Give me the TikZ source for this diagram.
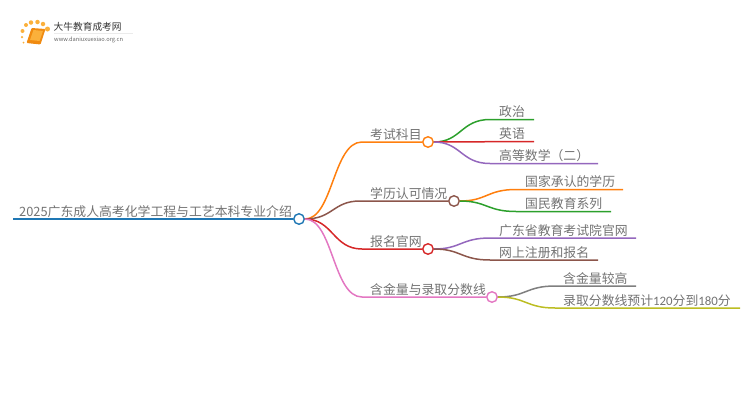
\documentclass[tikz,border=0pt]{standalone}
\usepackage{fontspec}
\usepackage{xcolor}
\setmainfont{Noto Sans CJK SC}
\newfontfamily\digitfont{Carlito}
\usetikzlibrary{positioning}
\definecolor{lineblue}{HTML}{1F77B4}
\definecolor{lineorange}{HTML}{FF7F0E}
\definecolor{linegreen}{HTML}{2CA02C}
\definecolor{linered}{HTML}{D62728}
\definecolor{linepurple}{HTML}{9467BD}
\definecolor{linebrown}{HTML}{8C564B}
\definecolor{linepink}{HTML}{E377C2}
\definecolor{linegray}{HTML}{7F7F7F}
\definecolor{lineolive}{HTML}{BCBD22}
\definecolor{booklight}{HTML}{FBB03B}
\definecolor{bookdark}{HTML}{F08A10}
\tikzset{
  label/.style={anchor=base west,inner sep=0pt,text=black!55,font=\fontsize{12.85}{15}\selectfont},
  knot/.style={circle,draw,fill=white,line width=1.4pt,minimum size=10.5pt,inner sep=0pt},
  branch/.style={line width=1.5pt},
  sun/.style={circle,fill=booklight,inner sep=0pt},
}
\begin{document}
\begin{tikzpicture}[x=1pt,y=-1pt]
\useasboundingbox (0,0) rectangle (750,410);
% logo
\fill[bookdark,rounded corners=1pt] (31.5,28) -- (45.5,29) -- (40.5,44.5) -- (26.5,43) -- cycle;
\fill[booklight] (33.5,30) -- (43,31) -- (39.5,41) -- (30,40) -- cycle;
\node[sun,minimum size=4pt] (sun1) at (22.5,31) {};
\node[sun,minimum size=4pt] (sun2) at (26,25) {};
\node[sun,minimum size=4.5pt] (sun3) at (31,22.5) {};
\node[sun,minimum size=4.5pt] (sun4) at (37.5,22) {};
\node[sun,minimum size=4.5pt] (sun5) at (43,24) {};
\node[sun,minimum size=5pt] (sun6) at (47.5,29) {};
\node[sun,minimum size=2.5pt] (sun7) at (22,37) {};
\node[sun,minimum size=2pt] (sun8) at (23.5,42.5) {};
\fill[black!8] (54,33) rectangle (133,33.6);
\node[anchor=base west,inner sep=0pt,text=black!80,font=\fontsize{9.7}{11}\selectfont] (logoname) at (53.5,30.5) {大牛教育成考网};
\node[anchor=base west,inner sep=0pt,text=black!60,font=\fontsize{5.7}{7}\selectfont] (logourl) at (54,41) {www.daniuxuexiao.org.cn};
% root
\coordinate (rootstart) at (13,219);
\node[knot,draw=lineblue] (root) at (299,219) {};
\draw[lineblue,line width=1.8pt] (rootstart) -- (root.west);
\node[label] (roottext) at (19,216) {2025广东成人高考化学工程与工艺本科专业介绍};
% first level
\node[knot,draw=lineorange] (kaoshi) at (428,142) {};
\node[knot,draw=linebrown] (xueli) at (454,201) {};
\node[knot,draw=linered] (baoming) at (428,249) {};
\node[knot,draw=linepink] (hanjin) at (492,297) {};
\coordinate (kaoshia) at (362,142);
\coordinate (xuelia) at (360,201);
\coordinate (baominga) at (362,249);
\coordinate (hanjina) at (362,297);
\node[label] (kaoshitext) at (370,139) {考试科目};
\node[label] (xuelitext) at (370,198) {学历认可情况};
\node[label] (baomingtext) at (370,246) {报名官网};
\node[label] (hanjintext) at (370,294) {含金量与录取分数线};
\draw[branch,lineorange] (root.east) .. controls (333,219) and (333,142) .. (kaoshia) -- (kaoshi.west);
\draw[branch,linebrown] (root.east) .. controls (333,219) and (333,201) .. (xuelia) -- (xueli.west);
\draw[branch,linered] (root.east) .. controls (333,219) and (333,249) .. (baominga) -- (baoming.west);
\draw[branch,linepink] (root.east) .. controls (333,219) and (333,297) .. (hanjina) -- (hanjin.west);
% second level
\coordinate (zhengzhia) at (490,119.5);
\coordinate (zhengzhib) at (534,119.5);
\coordinate (yingyub) at (534,141.5);
\coordinate (gaodenga) at (490,163.5);
\coordinate (gaodengb) at (598,163.5);
\coordinate (guojiaa) at (516,189.5);
\coordinate (guojiab) at (623,189.5);
\coordinate (guomina) at (516,211.5);
\coordinate (guominb) at (611,211.5);
\coordinate (guangdonga) at (490,238);
\coordinate (guangdongb) at (636,238);
\coordinate (wangshanga) at (490,260);
\coordinate (wangshangb) at (598,260);
\coordinate (jiaogaoa) at (555,286);
\coordinate (jiaogaob) at (636,286);
\coordinate (yucea) at (555,308);
\coordinate (yuceb) at (740,308);
\draw[branch,linegreen] (kaoshi.east) .. controls (461,142) and (461,119.5) .. (zhengzhia) -- (zhengzhib);
\draw[branch,linered] (kaoshi.east) -- (yingyub);
\draw[branch,linepurple] (kaoshi.east) .. controls (461,142) and (461,163.5) .. (gaodenga) -- (gaodengb);
\draw[branch,lineorange] (xueli.east) .. controls (487,201) and (487,189.5) .. (guojiaa) -- (guojiab);
\draw[branch,linegreen] (xueli.east) .. controls (487,201) and (487,211.5) .. (guomina) -- (guominb);
\draw[branch,linepurple] (baoming.east) .. controls (461,249) and (461,238) .. (guangdonga) -- (guangdongb);
\draw[branch,linebrown] (baoming.east) .. controls (461,249) and (461,260) .. (wangshanga) -- (wangshangb);
\draw[branch,linegray] (hanjin.east) .. controls (526,297) and (526,286) .. (jiaogaoa) -- (jiaogaob);
\draw[branch,lineolive] (hanjin.east) .. controls (526,297) and (526,308) .. (yucea) -- (yuceb);
\node[label] (zhengzhi) at (499,116.5) {政治};
\node[label] (yingyu) at (499,138.5) {英语};
\node[label] (gaodeng) at (499,160.5) {高等数学（二）};
\node[label] (guojia) at (525,186.5) {国家承认的学历};
\node[label] (guomin) at (525,208.5) {国民教育系列};
\node[label] (guangdong) at (499,235) {广东省教育考试院官网};
\node[label] (wangshang) at (499,257) {网上注册和报名};
\node[label] (jiaogao) at (563,283) {含金量较高};
\node[label] (yuce) at (563,305) {录取分数线预计{\digitfont 120}分到{\digitfont 180}分};
\end{tikzpicture}
\end{document}
